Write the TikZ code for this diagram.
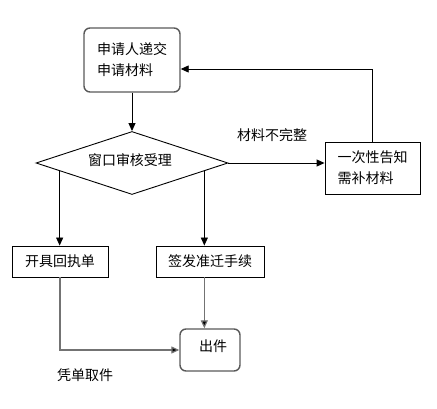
\documentclass[tikz,border=0pt]{standalone}
\usepackage{fontspec}
\setmainfont{Noto Sans CJK SC}
\usetikzlibrary{positioning,calc,arrows.meta,shapes.geometric}

\tikzset{
  stepbox/.style={draw, rectangle, line width=0.9pt, inner sep=0pt},
  roundbox/.style={stepbox, draw=black!65, line width=1.4pt, rounded corners=6pt},
  checkbox/.style={draw, diamond, line width=0.9pt, inner sep=0pt, minimum width=192pt, minimum height=63pt},
  flow/.style={line width=0.9pt, -{Triangle[length=8pt,width=7pt]}},
  grayflow/.style={flow, draw=black!55, line width=1.2pt, -{Triangle[length=8pt,width=7pt,fill=black]}}
}

\begin{document}
\begin{tikzpicture}[x=1pt,y=-1pt,font=\fontsize{14}{21}\selectfont]
	\useasboundingbox (0,0) rectangle (437,409);

	% boxes
	\node[roundbox, minimum width=96pt, minimum height=64pt, align=left] (apply) at (132,60) {申请人递交\\申请材料};
	\node[checkbox] (check) at (132,163) {};
	\node (checktext) at (130,160) {窗口审核受理};
	\node[stepbox, minimum width=95pt, minimum height=52pt, align=left] (notify) at (372.5,168) {一次性告知\\需补材料};
	\node[stepbox, minimum width=96pt, minimum height=31pt] (receipt) at (60,261.5) {开具回执单};
	\node[stepbox, minimum width=108pt, minimum height=31pt] (permit) at (210,261.5) {签发准迁手续};
	\node[roundbox, minimum width=60pt, minimum height=42pt] (issue) at (210,350) {};
	\node (issuetext) at (213,346) {出件};

	% labels
	\node (incomplete) at (272,135) {材料不完整};
	\node (pickup) at (85,375) {凭单取件};

	% connectors
	\coordinate (cl) at ($(check.west)!0.25!(check.south)$);
	\coordinate (cr) at ($(check.east)!0.25!(check.south)$);
	\draw[flow] (apply.south) -- (check.north);
	\draw[flow] (check.east) -- (check.east -| notify.west);
	\draw[flow] (notify.north) |- ([yshift=-9pt]apply.east);
	\draw[flow] (cl) -- (cl |- receipt.north);
	\draw[flow] (cr) -- (cr |- permit.north);
	\draw[grayflow] (cr |- permit.south) -- (cr |- issue.north);
	\draw[grayflow] (receipt.south) |- (issue.west);
\end{tikzpicture}
\end{document}
